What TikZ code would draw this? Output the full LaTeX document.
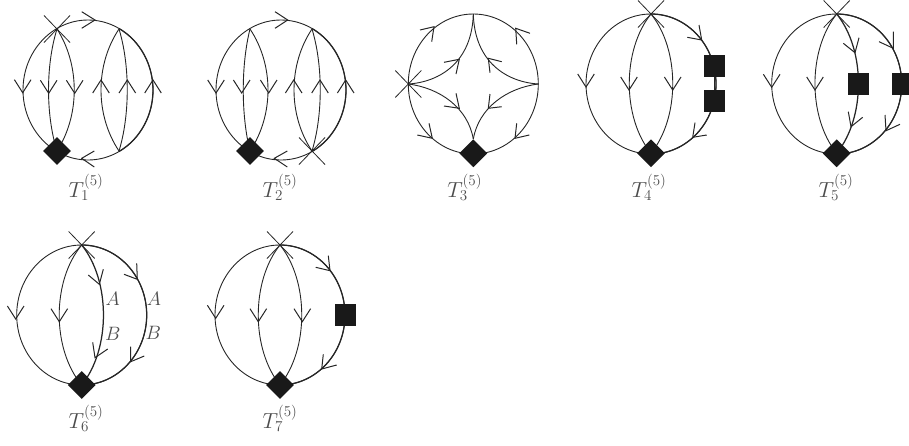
\documentclass[tikz,border=0pt]{standalone}
\usetikzlibrary{shapes.geometric}
\tikzset{
  ring/.style={line width=0.9pt,draw=black!85},
  thick ring/.style={line width=1.25pt,draw=black!85},
  barb/.style={line width=1pt,draw=black!85,line join=miter},
  crossline/.style={line width=0.8pt,draw=black!85},
  dia/.style={shape=diamond,fill=black!90,draw=none,inner sep=0pt,minimum width=28pt,minimum height=28pt},
  box/.style={rectangle,fill=black!90,draw=none,inner sep=0pt,minimum width=21pt,minimum height=22.5pt},
  lab/.style={anchor=base,inner sep=0pt,text=black!70,font=\huge,scale=1.05},
  letter/.style={inner sep=0pt,text=black!70,font=\LARGE,scale=1.12}
}
\newcommand\Barb[3]{\draw[barb] (#2) -- (#1) -- (#3);}
\newcommand\Dn[2]{\draw[barb] (#1-8.3,#2-13) -- (#1,#2) -- (#1+8.3,#2-13);}
\newcommand\Up[2]{\draw[barb] (#1-8.3,#2+13) -- (#1,#2) -- (#1+8.3,#2+13);}
\newcommand\Chord[3][ring]{\draw[#1] (#2) .. controls +(#3,36) and +(#3,-36) .. (dia#2);}
\newcommand\Cross[1]{\draw[crossline] (#1) ++(-13,-13.5) -- ++(26,27) (#1) ++(13,-13.5) -- ++(-26,27);}
\newcommand\Ring[4]{\draw[#4] (#1,#2) ellipse [x radius=#3pt,y radius=70pt];}
\begin{document}
\begin{tikzpicture}[x=1pt,y=-1pt]
\useasboundingbox (0,0) rectangle (909,445);
\clip (0,0) rectangle (909,445);

% T1
\Ring{88}{90}{65}{ring}
\coordinate (a) at (57,29); \coordinate (b) at (119,29);
\coordinate (diaa) at (57,151); \coordinate (diab) at (119,151);
\Chord{a}{-11.3}\Chord{a}{23}\Chord{b}{-24}\Chord{b}{11}
\draw[thick ring] (119,28.5) arc [start angle=-61.5,end angle=61.5,x radius=65pt,y radius=-70pt];
\node[dia] (da) at (diaa) {};
\Cross{a}
\Dn{22.7}{92.7}\Dn{48.7}{93.3}\Dn{74.7}{93.3}
\Up{101}{80}\Up{127.3}{80}\Up{153}{80}
\Barb{95,20}{81.7,11.7}{81.7,28.3}
\Barb{81.7,158.3}{94.3,151}{94.3,167}
\node[lab] (t1) at (86,197) {$T_1^{(5)}$};

% T2
\Ring{281}{90}{65}{ring}
\coordinate (c) at (250,29); \coordinate (d) at (312,29);
\coordinate (diac) at (250,151); \coordinate (diad) at (312,151);
\Chord{c}{-9}\Chord{c}{24}\Chord{d}{-24}\Chord{d}{11}
\draw[thick ring] (312,28.5) arc [start angle=-61.5,end angle=61.5,x radius=65pt,y radius=-70pt];
\node[dia] (dc) at (diac) {};
\Cross{diad}
\Dn{216}{93}\Dn{241.7}{93}\Dn{268.7}{93}
\Up{293.7}{80}\Up{320}{80}\Up{345.7}{80}
\Barb{287.7,20}{275,11.7}{275,28.3}
\Barb{274.3,158.3}{287.3,151}{287.3,167}
\node[lab] (t2) at (280,197) {$T_2^{(5)}$};

% T3
\Ring{473.3}{84}{65}{ring}
\coordinate (l) at (408.3,84); \coordinate (r) at (538.3,84); \coordinate (u) at (473.3,14);
\node[dia] (f) at (473.3,153.3) {};
\draw[ring] (l) .. controls (440,82) and (472,62) .. (u);
\draw[ring] (r) .. controls (506.6,82) and (474.6,62) .. (u);
\draw[ring] (l) .. controls (440,88) and (468,108) .. (f.north);
\draw[ring] (r) .. controls (506.6,88) and (478.6,108) .. (f.north);
\Cross{l}
\Barb{434,26.7}{420,30}{431.7,41.7}
\Barb{515.7,28.3}{530,33.3}{516.7,44.3}
\Barb{459.3,59.3}{444,62.3}{456,74}
\Barb{488.3,58.3}{501.7,61.7}{490,72.7}
\Barb{459.3,108.3}{444,106}{456,93.3}
\Barb{488.3,108.3}{501.7,106.7}{490,94}
\Barb{432.3,138.3}{417.3,135}{429,123.3}
\Barb{515,138.3}{529.3,135}{516.7,123.3}
\node[lab] (t3) at (464.7,197) {$T_3^{(5)}$};

% T4
\Ring{651}{84}{65}{ring}
\coordinate (e) at (651,14); \coordinate (diae) at (651,153.3);
\Chord{e}{-29}\Chord{e}{29}
\draw[thick ring] (e) arc [start angle=-90,end angle=90,x radius=65pt,y radius=-70pt];
\node[dia] (g) at (diae) {};
\node[box] (g1) at (714.5,66) {};
\node[box] (g2) at (714.5,101) {};
\draw[thick ring] (g1) -- (g2);
\Cross{e}
\Dn{586}{87}\Dn{629}{90}\Dn{672.7}{90}
\Barb{701.7,40}{687.3,37.3}{699,25}
\Barb{692.7,137.3}{706.7,135}{695,122.7}
\node[lab] (t4) at (649,197) {$T_4^{(5)}$};

% T5
\Ring{836.7}{84}{65}{ring}
\coordinate (h) at (836.7,14); \coordinate (diah) at (836.7,153.3);
\Chord{h}{-29}\Chord[thick ring]{h}{29}
\draw[thick ring] (h) arc [start angle=-90,end angle=90,x radius=65pt,y radius=-70pt];
\node[dia] (i) at (diah) {};
\node[box] (i1) at (858.7,84) {};
\node[box] (i2) at (902,84) {};
\Cross{h}
\Dn{771.7}{87.3}\Dn{815}{90}
\Barb{855,52.7}{843.3,43.3}{859,37.7}
\Barb{851,126.7}{848.3,111.7}{862.7,117.3}
\Barb{893.3,48.3}{879,41.7}{893.3,31.7}
\Barb{886,130.7}{885,115}{900,124.3}
\node[lab] (t5) at (836,197) {$T_5^{(5)}$};

% T6
\Ring{81.7}{315}{65}{ring}
\coordinate (j) at (81.7,245); \coordinate (diaj) at (81.7,385);
\Chord{j}{-30}\Chord[thick ring]{j}{29}
\draw[thick ring] (j) arc [start angle=-90,end angle=90,x radius=65pt,y radius=-70pt];
\node[dia] (k) at (diaj) {};
\Cross{j}
\Dn{15.7}{319}\Dn{59.3}{321.7}
\Barb{99.3,284.3}{88.3,275}{103.3,269.3}
\Barb{95,357.7}{92.7,342.3}{107.7,349}
\Barb{137.3,279.3}{124,274.3}{136.7,263.3}
\Barb{130.7,361.7}{130.7,346.7}{144.3,356}
\node[letter] (aa) at (112.7,299) {$A$};
\node[letter] (ab) at (112.7,334) {$B$};
\node[letter] (ba) at (154,299) {$A$};
\node[letter] (bb) at (153.3,333) {$B$};
\node[lab] (t6) at (86,428) {$T_6^{(5)}$};

% T7
\Ring{280}{315}{65}{ring}
\coordinate (m) at (280,245); \coordinate (diam) at (280,385);
\Chord{m}{-29}\Chord{m}{29}
\draw[thick ring] (m) arc [start angle=-90,end angle=90,x radius=65pt,y radius=-70pt];
\node[dia] (n) at (diam) {};
\node[box] (n1) at (345.5,315) {};
\Cross{m}
\Dn{215.7}{318.3}\Dn{258.3}{321.7}\Dn{302.3}{321.7}
\Barb{330,270.7}{315.7,267.3}{328.3,255.7}
\Barb{321.7,369}{323.3,354.3}{336.7,365}
\node[lab] (t7) at (280,428) {$T_7^{(5)}$};
\end{tikzpicture}
\end{document}
